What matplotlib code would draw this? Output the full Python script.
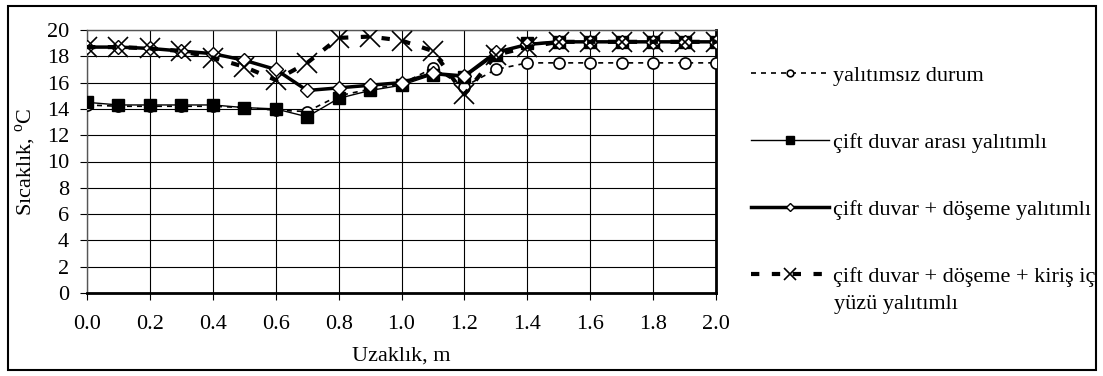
import numpy as np
import matplotlib
matplotlib.use('Agg')
import matplotlib.pyplot as plt
from matplotlib.patches import Rectangle

plt.rcParams['font.family'] = ['Liberation Serif', 'DejaVu Serif']
plt.rcParams['mathtext.fontset'] = 'custom'
plt.rcParams['mathtext.rm'] = 'Liberation Serif'

x = [0.0, 0.1, 0.2, 0.3, 0.4, 0.5, 0.6, 0.7, 0.8, 0.9, 1.0,
     1.1, 1.2, 1.3, 1.4, 1.5, 1.6, 1.7, 1.8, 1.9, 2.0]

yalitimsiz = [14.3, 14.2, 14.2, 14.2, 14.2, 14.1, 13.9, 13.8, 15.0, 15.5, 15.9,
              17.1, 15.7, 17.0, 17.5, 17.5, 17.5, 17.5, 17.5, 17.5, 17.5]
cift_duvar = [14.5, 14.3, 14.3, 14.3, 14.3, 14.1, 14.0, 13.4, 14.8, 15.4, 15.8,
              16.6, 16.4, 18.1, 19.0, 19.1, 19.1, 19.1, 19.1, 19.1, 19.1]
duvar_doseme = [18.7, 18.7, 18.6, 18.4, 18.2, 17.7, 17.0, 15.4, 15.6, 15.8, 16.0,
                16.7, 16.5, 18.3, 18.9, 19.1, 19.1, 19.1, 19.1, 19.1, 19.1]
duvar_doseme_kiris = [18.7, 18.7, 18.6, 18.4, 17.9, 17.2, 16.2, 17.5, 19.4, 19.5, 19.2,
                      18.4, 15.1, 18.1, 18.7, 19.1, 19.1, 19.1, 19.1, 19.1, 19.1]

labels = ['yalıtımsız durum',
          'çift duvar arası yalıtımlı',
          'çift duvar + döşeme yalıtımlı',
          'çift duvar + döşeme + kiriş iç']

fs = 16

fig = plt.figure(figsize=(11.03, 3.76), dpi=100)
ax = fig.add_axes([87/1103, 1 - 293/376, (716 - 87)/1103, (293 - 30)/376])

ax.plot(x, yalitimsiz, color='black', lw=1.2, ls=(0, (3, 3)), marker='o',
        ms=8, mfc='white', mec='black', mew=1.2, label=labels[0], zorder=3)
ax.plot(x, cift_duvar, color='black', lw=1.0, ls='-', marker='s',
        ms=9, mfc='black', mec='black', label=labels[1], zorder=4)
ax.plot(x, duvar_doseme, color='black', lw=2.5, ls='-', marker='D',
        ms=7, mfc='white', mec='black', mew=1.0, label=labels[2], zorder=5)
ax.plot(x, duvar_doseme_kiris, color='black', lw=3, ls=(0, (2, 3)), marker='x',
        ms=14, mec='black', mew=1.2, label=labels[3], zorder=6)

ax.set_xlim(0, 2.0)
ax.set_ylim(0, 20)
ax.set_xticks(np.arange(0, 2.01, 0.2))
ax.set_xticklabels([f'{v:.1f}' for v in np.arange(0, 2.01, 0.2)])
ax.set_yticks(np.arange(0, 21, 2))
ax.grid(True, color='black', lw=0.8)
ax.set_axisbelow(True)
ax.tick_params(axis='x', direction='out', length=5, pad=11, labelsize=fs)
ax.tick_params(axis='y', direction='out', length=5, pad=8, labelsize=fs)

for side in ['top', 'left']:
    ax.spines[side].set_linewidth(1.0)
    ax.spines[side].set_color('#555555')
for side in ['bottom', 'right']:
    ax.spines[side].set_linewidth(2.0)

ax.set_xlabel('Uzaklık, m', fontsize=fs, labelpad=9)
ax.set_ylabel('Sıcaklık, $^{\\mathregular{o}}$C', fontsize=fs, labelpad=6)

leg = fig.legend(loc='upper left', bbox_to_anchor=(731/1103, 1 - 45/376),
                 frameon=False, fontsize=fs, handlelength=3.5,
                 labelspacing=2.1, markerscale=0.6, handletextpad=0.2)
fig.text(834/1103, 1 - 305/376, 'yüzü yalıtımlı', fontsize=fs, va='center')

fig.patches.append(Rectangle((8/1103, 6/376), 1088/1103, 364/376,
                             transform=fig.transFigure, fill=False,
                             edgecolor='black', lw=1.5))

fig.savefig('out.png', dpi=100)
